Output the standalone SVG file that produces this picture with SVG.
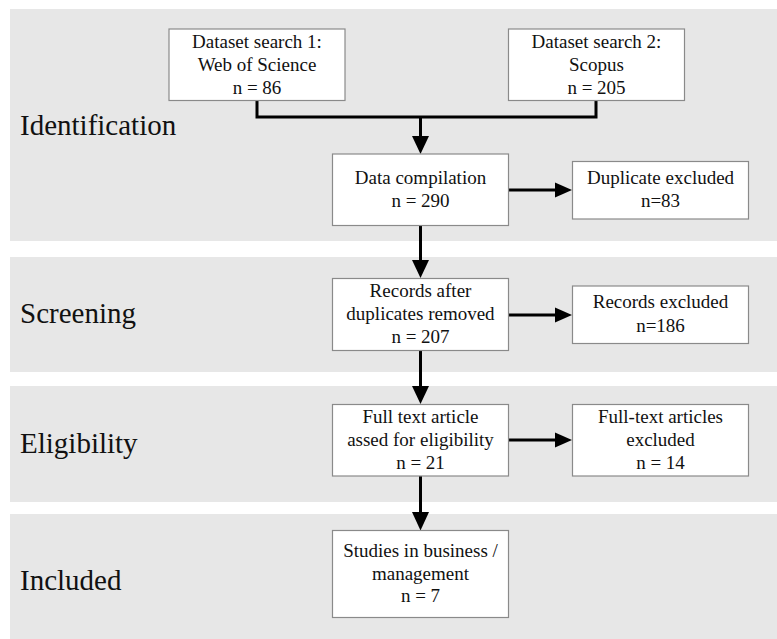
<svg xmlns="http://www.w3.org/2000/svg" width="777" height="639" viewBox="0 0 777 639">
<style>
.band{fill:#e7e7e7}
.phase{font-family:"Liberation Serif","Times New Roman",serif;font-size:29px;fill:#111}
.box{fill:#fff;stroke:#8a8a8a;stroke-width:1.2}
.t{font-family:"Liberation Serif","Times New Roman",serif;font-size:19px;fill:#111;text-anchor:middle}
.ln{fill:none;stroke:#000;stroke-width:3}
.ah{fill:#000}
</style>
<rect width="777" height="639" fill="#fff"/>
<g id="bands">
<rect class="band" x="10" y="9" width="767" height="232"/>
<rect class="band" x="10" y="257" width="767" height="115"/>
<rect class="band" x="10" y="386" width="767" height="116"/>
<rect class="band" x="10" y="514" width="767" height="125"/>
<text class="phase" x="20" y="135">Identification</text>
<text class="phase" x="20" y="323">Screening</text>
<text class="phase" x="20" y="453">Eligibility</text>
<text class="phase" x="20" y="590">Included</text>
</g>
<g id="connectors">
<polyline class="ln" points="257,100.5 257,117 596,117 596,100.5"/>
<line class="ln" x1="420.5" y1="117" x2="420.5" y2="138"/>
<polygon class="ah" points="412,136 429,136 420.5,154"/>
<line class="ln" x1="508" y1="190" x2="556" y2="190"/>
<polygon class="ah" points="555,182.5 555,197.5 572,190"/>
<line class="ln" x1="420.5" y1="226" x2="420.5" y2="262"/>
<polygon class="ah" points="412,260 429,260 420.5,278"/>
<line class="ln" x1="508" y1="315" x2="556" y2="315"/>
<polygon class="ah" points="555,307.5 555,322.5 572,315"/>
<line class="ln" x1="420.5" y1="351" x2="420.5" y2="388"/>
<polygon class="ah" points="412,386 429,386 420.5,404"/>
<line class="ln" x1="508" y1="440" x2="556" y2="440"/>
<polygon class="ah" points="555,432.5 555,447.5 572,440"/>
<line class="ln" x1="420.5" y1="476" x2="420.5" y2="514"/>
<polygon class="ah" points="412,512 429,512 420.5,530.5"/>
</g>
<g id="n1">
<rect class="box" x="169" y="29" width="176" height="71.5"/>
<text class="t" x="257" y="48">Dataset search 1:</text>
<text class="t" x="257" y="71">Web of Science</text>
<text class="t" x="257" y="94">n = 86</text>
</g>
<g id="n2">
<rect class="box" x="508.5" y="29" width="176" height="71.5"/>
<text class="t" x="596.5" y="48">Dataset search 2:</text>
<text class="t" x="596.5" y="71">Scopus</text>
<text class="t" x="596.5" y="94">n = 205</text>
</g>
<g id="n3">
<rect class="box" x="332.5" y="154" width="176" height="71.5"/>
<text class="t" x="420.5" y="184">Data compilation</text>
<text class="t" x="420.5" y="207">n = 290</text>
</g>
<g id="n4">
<rect class="box" x="572.5" y="161.5" width="176" height="57.5"/>
<text class="t" x="660.5" y="184">Duplicate excluded</text>
<text class="t" x="660.5" y="207">n=83</text>
</g>
<g id="n5">
<rect class="box" x="332.5" y="278.5" width="176" height="72"/>
<text class="t" x="420.5" y="297">Records after</text>
<text class="t" x="420.5" y="320">duplicates removed</text>
<text class="t" x="420.5" y="343">n = 207</text>
</g>
<g id="n6">
<rect class="box" x="572.5" y="286" width="176" height="57.5"/>
<text class="t" x="660.5" y="308">Records excluded</text>
<text class="t" x="660.5" y="331.5">n=186</text>
</g>
<g id="n7">
<rect class="box" x="332.5" y="404.5" width="176" height="71.5"/>
<text class="t" x="420.5" y="423">Full text article</text>
<text class="t" x="420.5" y="446">assed for eligibility</text>
<text class="t" x="420.5" y="469">n = 21</text>
</g>
<g id="n8">
<rect class="box" x="572.5" y="404.5" width="176" height="71.5"/>
<text class="t" x="660.5" y="423">Full-text articles</text>
<text class="t" x="660.5" y="446">excluded</text>
<text class="t" x="660.5" y="469">n = 14</text>
</g>
<g id="n9">
<rect class="box" x="332.5" y="530.5" width="176" height="87"/>
<text class="t" x="420.5" y="556.5">Studies in business /</text>
<text class="t" x="420.5" y="579.5">management</text>
<text class="t" x="420.5" y="602">n = 7</text>
</g>
</svg>
